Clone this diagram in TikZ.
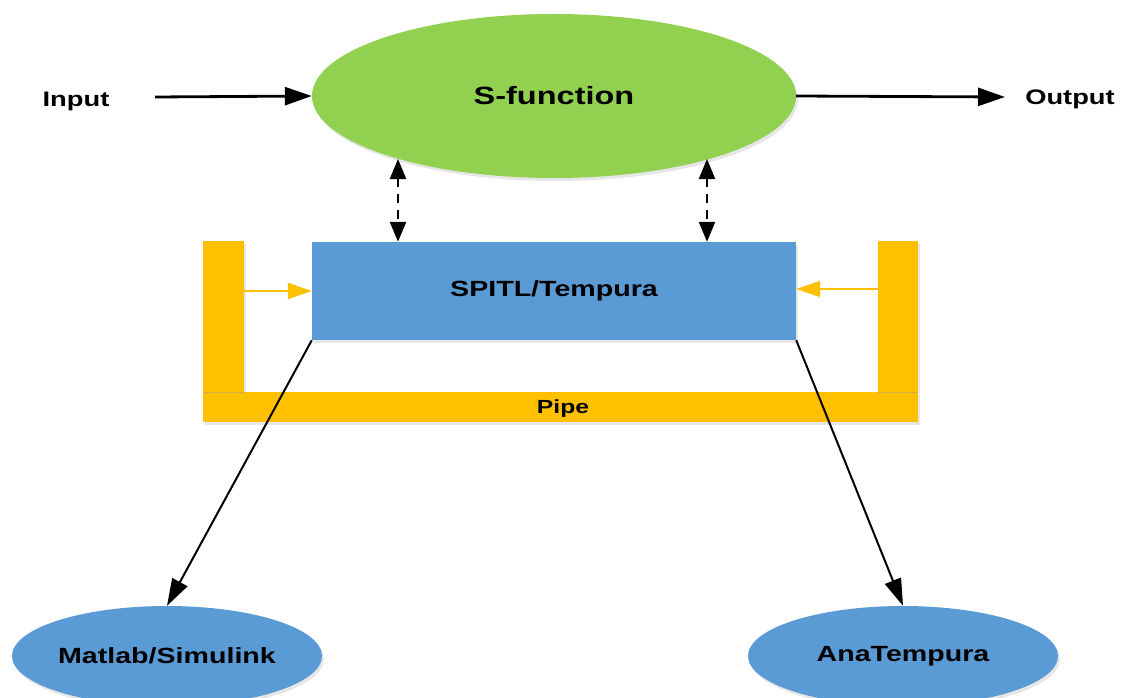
\documentclass[tikz,border=0pt]{standalone}
\usepackage{fontspec}
\setmainfont{Liberation Sans}
\usetikzlibrary{arrows.meta,shapes.geometric,shadows}
\definecolor{sfgreen}{HTML}{92D050}
\definecolor{boxblue}{HTML}{5B9BD5}
\definecolor{pipeorange}{HTML}{FFC000}
\newcommand{\wide}[1]{\scalebox{1.3}[1]{#1}}
\tikzset{
  shad/.style={drop shadow={opacity=0.2,shadow xshift=2pt,shadow yshift=-3pt}},
  lbl/.style={font=\bfseries\fontsize{21}{24}\selectfont},
  blk/.style={-{Triangle[length=27pt,width=18pt]},line width=2.8pt},
  dbl/.style={{Triangle[length=20pt,width=16pt]}-{Triangle[length=20pt,width=16pt]},line width=2.4pt,dash pattern=on 9pt off 7pt},
  org/.style={-{Triangle[length=24pt,width=16pt]},line width=1.8pt,draw=pipeorange},
  diag/.style={-{Triangle[length=27pt,width=17pt]},line width=2pt},
}
\begin{document}
\begin{tikzpicture}[x=1pt,y=-1pt]
\useasboundingbox (0,0) rectangle (1124,698);
% pipe
\fill[pipeorange,shad] (203,241) rectangle (244,392);
\fill[pipeorange,shad] (878,241) rectangle (918,392);
\fill[pipeorange,shad] (203,392) rectangle (918,422);
\draw[black!40,line width=1pt,opacity=0.5] (204,392) -- (244,392) (878,392) -- (917,392);
\node[font=\bfseries\fontsize{19}{22}\selectfont] (pipe) at (563,409) {\wide{Pipe}};
% main nodes
\node[ellipse,fill=sfgreen,shad,minimum width=484pt,minimum height=164pt,inner sep=0pt,
  font=\bfseries\fontsize{25}{28}\selectfont] (sf) at (554,96) {\wide{S-function}};
\node[rectangle,fill=boxblue,shad,minimum width=484pt,minimum height=98pt,inner sep=0pt,
  font=\bfseries\fontsize{22}{25}\selectfont] (sp) at (554,291) {\wide{SPITL/Tempura}};
\node[ellipse,fill=boxblue,shad,minimum width=310pt,minimum height=100pt,inner sep=0pt,
  font=\bfseries\fontsize{22}{25}\selectfont] (ml) at (167,656) {\wide{Matlab/Simulink}};
\node[ellipse,fill=boxblue,shad,minimum width=310pt,minimum height=100pt,inner sep=0pt,
  font=\bfseries\fontsize{22}{25}\selectfont] (at) at (903,656) {\wide{AnaTempura}};
\node[lbl] (in) at (76,101) {\wide{Input}};
\node[lbl] (out) at (1070,99) {\wide{Output}};
% coordinates
\coordinate (inS) at (155,97);
\coordinate (outE) at (1005,97);
\coordinate (l1) at (398,159);
\coordinate (r1) at (707,159);
\coordinate (pl) at (244,291);
\coordinate (pr) at (878,289);
% connectors
\draw[blk] (inS) -- (sf.west);
\draw[blk] (sf.east) -- (outE);
\draw[dbl] (l1) -- (sp.north -| l1);
\draw[dbl] (r1) -- (sp.north -| r1);
\draw[org] (pl) -- (sp.west |- pl);
\draw[org] (pr) -- (sp.east |- pr);
\draw[diag] (sp.south west) -- (ml.north);
\draw[diag] (sp.south east) -- (at.north);
\end{tikzpicture}
\end{document}
